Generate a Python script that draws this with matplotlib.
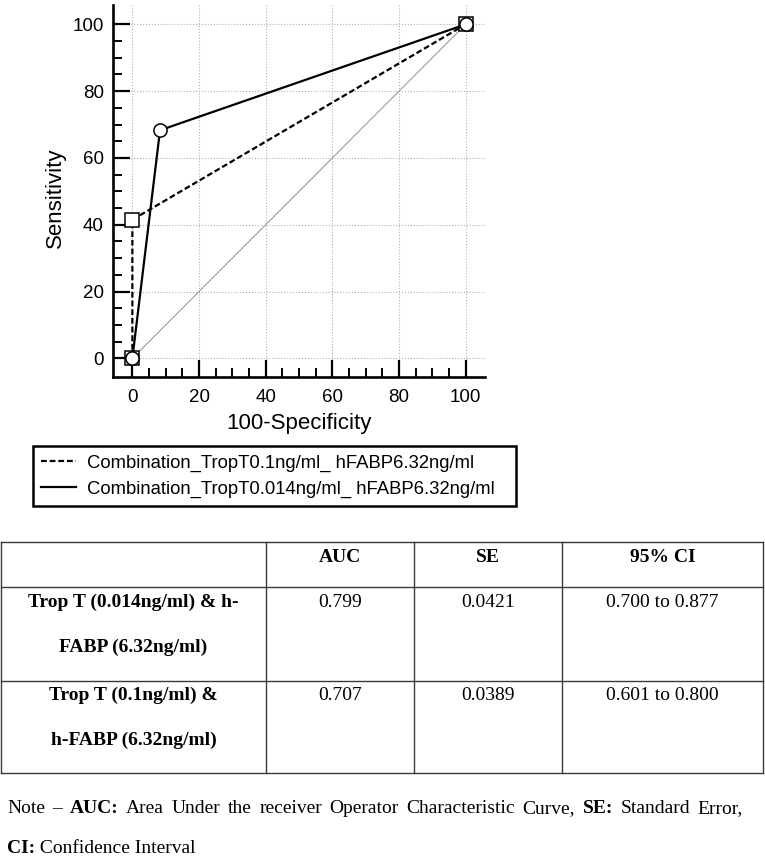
import matplotlib
matplotlib.use('Agg')
import matplotlib.pyplot as plt
from matplotlib.ticker import FixedLocator

# ROC points (100-specificity, sensitivity)
fpr_014 = [0, 8.3, 100]
sens_014 = [0, 68.3, 100]
fpr_01 = [0, 0, 100]
sens_01 = [0, 41.5, 100]
legend_labels = ['Combination_TropT0.1ng/ml_ hFABP6.32ng/ml',
                 'Combination_TropT0.014ng/ml_ hFABP6.32ng/ml']

# table below the chart
col_headers = ['', 'AUC', 'SE', '95% CI']
row_labels = [['Trop T (0.014ng/ml) & h-', 'FABP (6.32ng/ml)'],
              ['Trop T (0.1ng/ml) &', 'h-FABP (6.32ng/ml)']]
auc_vals = ['0.799', '0.707']
se_vals = ['0.0421', '0.0389']
ci_vals = ['0.700 to 0.877', '0.601 to 0.800']

note_line1 = [('Note', 'normal'), ('\u2013', 'normal'), ('AUC:', 'bold'),
              ('Area', 'normal'), ('Under', 'normal'), ('the', 'normal'),
              ('receiver', 'normal'), ('Operator', 'normal'),
              ('Characteristic', 'normal'), ('Curve,', 'normal'),
              ('SE:', 'bold'), ('Standard', 'normal'), ('Error,', 'normal')]
note_line2 = [('CI:', 'bold'), (' Confidence Interval', 'normal')]

W, H = 765, 859
SANS = 'Liberation Sans'
SERIF = 'Liberation Serif'

fig = plt.figure(figsize=(W / 100, H / 100), dpi=100)

# --- ROC chart ---
ax = fig.add_axes([112.7 / W, 1 - 376.7 / H, (485 - 112.7) / W, (376.7 - 5) / H])
ax.set_xlim(-5.9, 105.8)
ax.set_ylim(-5.5, 105.8)
ax.set_axisbelow(True)
ax.grid(True, which='major', linestyle=':', color='#b0b0b0', linewidth=0.8)

ax.plot([0, 100], [0, 100], color='#909090', lw=0.7, zorder=2)
ax.plot(fpr_01, sens_01, color='black', lw=1.6, dashes=(2.6, 1.3),
        marker='s', ms=10, mfc='white', mec='black', mew=1.1, zorder=3)
ax.plot(fpr_014, sens_014, color='black', lw=1.6,
        marker='o', ms=9.5, mfc='white', mec='black', mew=1.1, zorder=4)

ax.set_xticks(range(0, 101, 20))
ax.set_yticks(range(0, 101, 20))
minor = [v for v in range(0, 101, 5) if v % 20]
ax.xaxis.set_minor_locator(FixedLocator(minor))
ax.yaxis.set_minor_locator(FixedLocator(minor))
ax.tick_params(which='major', direction='in', length=12, width=1.6,
               labelsize=13.5)
ax.tick_params(which='minor', direction='in', length=6.5, width=1.4)
ax.tick_params(axis='x', which='major', pad=9)
ax.tick_params(axis='y', which='major', pad=6.5)
for lab in ax.get_xticklabels() + ax.get_yticklabels():
    lab.set_family(SANS)
for s in ['top', 'right']:
    ax.spines[s].set_visible(False)
for s in ['left', 'bottom']:
    ax.spines[s].set_linewidth(1.9)

ax.set_xlabel('100-Specificity', fontsize=16, family=SANS, va='center')
ax.set_ylabel('Sensitivity', fontsize=16, family=SANS, va='center')
ax.xaxis.set_label_coords(0.5, -0.127)
ax.yaxis.set_label_coords(-0.155, 0.481)

# legend (dashed first)
handles = ax.get_lines()[1:3]
leg = fig.legend(handles, legend_labels, loc='upper left',
                 bbox_to_anchor=(33 / W, 1 - 509 / H, (516 - 33) / W, (509 - 446) / H),
                 mode='expand', borderaxespad=0, fancybox=False,
                 edgecolor='black', framealpha=1,
                 prop={'family': SANS, 'size': 13.3},
                 handlelength=1.9, handletextpad=0.55,
                 borderpad=0.45, labelspacing=0.5)
leg.get_frame().set_linewidth(1.8)
for h in leg.legend_handles:
    h.set_marker('')

# --- table and note, drawn in pixel coordinates ---
tab = fig.add_axes([0, 0, 1, 1])
tab.set_xlim(0, W)
tab.set_ylim(H, 0)
tab.axis('off')

col_x = [1, 266, 414, 562, 763]
row_y = [542, 587, 681, 773]
lc = '#3a3a3a'
for y in row_y:
    tab.plot([col_x[0], col_x[-1]], [y, y], color=lc, lw=1)
for x in col_x:
    tab.plot([x, x], [row_y[0], row_y[-1]], color=lc, lw=1)

centers = [(col_x[i] + col_x[i + 1]) / 2 for i in range(4)]
for i, h in enumerate(col_headers):
    tab.text(centers[i], 562, h, ha='center', va='baseline',
             family=SERIF, fontweight='bold', fontsize=14)

first_base = [607, 700]
for r in range(2):
    b = first_base[r]
    for k, line in enumerate(row_labels[r]):
        tab.text(centers[0], b + 45 * k, line, ha='center', va='baseline',
                 family=SERIF, fontweight='bold', fontsize=14)
    for c, vals in enumerate([auc_vals, se_vals, ci_vals]):
        tab.text(centers[c + 1], b, vals[r], ha='center', va='baseline',
                 family=SERIF, fontsize=14)

# justified note line
txts = [tab.text(0, 813, w, va='baseline', family=SERIF, fontweight=wt,
                 fontsize=14) for w, wt in note_line1]
fig.canvas.draw()
rend = fig.canvas.get_renderer()
widths = [t.get_window_extent(rend).width for t in txts]
x0, x1 = 7, 743
gap = (x1 - x0 - sum(widths)) / (len(txts) - 1)
x = x0
for t, w in zip(txts, widths):
    t.set_x(x)
    x += w + gap

x = x0
for w, wt in note_line2:
    t = tab.text(x, 853, w, va='baseline', family=SERIF, fontweight=wt,
                 fontsize=14)
    fig.canvas.draw()
    x += t.get_window_extent(rend).width

fig.savefig('out.png', dpi=100)
